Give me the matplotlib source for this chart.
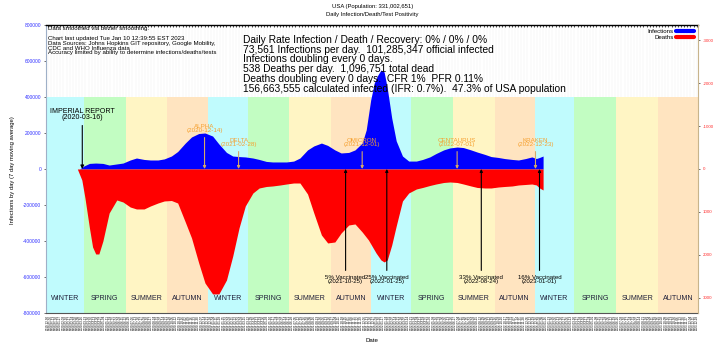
import numpy as np
import pandas as pd
import matplotlib
matplotlib.use("Agg")
import matplotlib.pyplot as plt
import matplotlib.dates as mdates
from matplotlib.lines import Line2D

plt.rcParams['font.family'] = ['Liberation Sans', 'DejaVu Sans']

# daily infections (7 day average, smoothed)
inf_dates = ["2020-03-10", "2020-03-20", "2020-04-01", "2020-04-15", "2020-05-01", "2020-05-15",
             "2020-06-01", "2020-06-15", "2020-07-01", "2020-07-15", "2020-08-01", "2020-08-15",
             "2020-09-01", "2020-09-15", "2020-10-01", "2020-10-15", "2020-11-01", "2020-11-15",
             "2020-12-01", "2020-12-15", "2021-01-01", "2021-01-15", "2021-02-01", "2021-02-15",
             "2021-03-01", "2021-03-15", "2021-04-01", "2021-04-15", "2021-05-01", "2021-05-15",
             "2021-06-01", "2021-06-15", "2021-07-01", "2021-07-15", "2021-08-01", "2021-08-15",
             "2021-09-01", "2021-09-15", "2021-10-01", "2021-10-15", "2021-11-01", "2021-11-15",
             "2021-12-01", "2021-12-10", "2021-12-20", "2021-12-28", "2022-01-05", "2022-01-12",
             "2022-01-19", "2022-01-26", "2022-02-05", "2022-02-15", "2022-03-01", "2022-03-15",
             "2022-04-01", "2022-04-15", "2022-05-01", "2022-05-15", "2022-06-01", "2022-06-15",
             "2022-07-01", "2022-07-15", "2022-08-01", "2022-08-15", "2022-09-01", "2022-09-15",
             "2022-10-01", "2022-10-15", "2022-11-01", "2022-11-15", "2022-12-01", "2022-12-15",
             "2022-12-25", "2023-01-01", "2023-01-09"]
inf_values = [0, 17000, 31000, 33000, 31000, 22000,
              28000, 33000, 50000, 61000, 53000, 50000,
              50000, 56000, 72000, 97000, 144000, 178000,
              197000, 200000, 183000, 139000, 92000, 72000,
              69000, 67000, 61000, 53000, 42000, 39000,
              39000, 39000, 44000, 61000, 106000, 128000,
              144000, 131000, 106000, 89000, 92000, 106000,
              144000, 217000, 383000, 478000, 522000, 550000,
              539000, 450000, 283000, 156000, 72000, 44000,
              44000, 53000, 67000, 86000, 106000, 117000,
              122000, 119000, 106000, 94000, 81000, 69000,
              64000, 58000, 53000, 50000, 58000, 67000,
              58000, 64000, 72000]

# daily deaths (right axis, drawn downwards)
death_dates = ["2020-03-05", "2020-03-15", "2020-03-22", "2020-04-01", "2020-04-08", "2020-04-15",
               "2020-04-22", "2020-05-01", "2020-05-15", "2020-06-01", "2020-06-15", "2020-07-01",
               "2020-07-15", "2020-08-01", "2020-08-15", "2020-09-01", "2020-09-15", "2020-10-01",
               "2020-10-15", "2020-11-01", "2020-11-15", "2020-12-01", "2020-12-15", "2021-01-01",
               "2021-01-15", "2021-02-01", "2021-02-15", "2021-03-01", "2021-03-15", "2021-04-01",
               "2021-04-15", "2021-05-01", "2021-05-15", "2021-06-01", "2021-06-15", "2021-07-01",
               "2021-07-15", "2021-08-01", "2021-08-15", "2021-09-01", "2021-09-15", "2021-10-01",
               "2021-10-15", "2021-11-01", "2021-11-15", "2021-12-01", "2021-12-15", "2022-01-01",
               "2022-01-12", "2022-01-19", "2022-01-26", "2022-02-05", "2022-02-15", "2022-03-01",
               "2022-03-15", "2022-04-01", "2022-04-15", "2022-05-01", "2022-05-15", "2022-06-01",
               "2022-06-15", "2022-07-01", "2022-07-15", "2022-08-01", "2022-08-15", "2022-09-01",
               "2022-09-15", "2022-10-01", "2022-10-15", "2022-11-01", "2022-11-15", "2022-12-01",
               "2022-12-15", "2022-12-25", "2023-01-01", "2023-01-09"]
death_values = [0, 256, 675, 1372, 1814, 1977,
                1977, 1675, 1023, 721, 768, 884,
                930, 930, 861, 791, 744, 733,
                791, 1233, 1605, 2186, 2652, 2907,
                2907, 2582, 2024, 1372, 861, 558,
                442, 407, 395, 372, 349, 326,
                326, 582, 1023, 1535, 1721, 1698,
                1489, 1303, 1279, 1465, 1651, 1954,
                2117, 2163, 2117, 1768, 1326, 744,
                558, 465, 430, 384, 349, 314,
                302, 314, 349, 395, 430, 442,
                442, 419, 407, 395, 372, 360,
                349, 372, 442, 488]

season_starts = ["2019-12-21", "2020-03-20", "2020-06-21", "2020-09-22", "2020-12-21",
                 "2021-03-20", "2021-06-21", "2021-09-22", "2021-12-21", "2022-03-20",
                 "2022-06-21", "2022-09-23", "2022-12-21", "2023-03-20", "2023-06-21",
                 "2023-09-23", "2023-12-22"]
season_names = ["WINTER", "SPRING", "SUMMER", "AUTUMN"] * 4
season_colors = {"WINTER": "#c0fbfd", "SPRING": "#c2fdc2", "SUMMER": "#fff5c4", "AUTUMN": "#ffe4c0"}

variant_names = ["ALPHA", "DELTA", "OMICRON", "CENTAURUS", "KRAKEN"]
variant_dates = ["2020-12-14", "2021-02-28", "2021-12-01", "2022-07-01", "2022-12-23"]
variant_label_y = [225000, 147000, 147000, 147000, 147000]

vacc_labels = ["5% Vaccinated", "25% Vaccinated", "33% Vaccinated", "16% Vaccinated"]
vacc_dates = ["2021-10-25", "2022-01-25", "2022-08-24", "2023-01-01"]

x_start, x_end = "2019-12-26", "2023-12-21"

def num(d):
    return mdates.date2num(pd.Timestamp(d))

fig = plt.figure(figsize=(7.2, 3.47), dpi=100)
ax = fig.add_axes([0.0639, 0.098, 0.9056, 0.830])
ax.set_xlim(num(x_start), num(x_end))
ax.set_ylim(-800000, 800000)
ax.set_axisbelow(True)
ax.grid(axis='x', color='#f0f0f0', lw=0.3)

# season bands
for i, name in enumerate(season_names):
    a, b = num(season_starts[i]), num(season_starts[i + 1])
    ax.fill_between([a, b], -800000, 400000, color=season_colors[name], lw=0, zorder=1)
    lo, hi = max(a, num(x_start)), min(b, num(x_end))
    ax.text((lo + hi) / 2, -722000, name, ha='center', va='center', fontsize=5.1,
            color='#20203a', zorder=3)

inf_x = [num(d) for d in inf_dates]
ax.fill_between(inf_x, 0, inf_values, color='#0000ff', lw=0, zorder=2)

ax2 = ax.twinx()
ax2.set_ylim(3350, -3350)
death_x = [num(d) for d in death_dates]
ax2.fill_between(death_x, 0, death_values, color='#ff0000', lw=0, zorder=2)

# ticks
week_ticks = pd.date_range("2019-12-30", x_end, freq="7D")
ax.set_xticks([num(t) for t in week_ticks])
ax.set_xticklabels([t.strftime("%Y-%m-%d") for t in week_ticks], rotation=90, fontsize=2.2)
ax.tick_params(axis='x', top=True, direction='in', length=1.5, width=0.5, pad=1.5)
yt = list(range(-800000, 800001, 200000))
ax.set_yticks(yt)
ax.set_yticklabels([str(v) for v in yt], fontsize=3.5, color='#3333ff')
ax.tick_params(axis='y', length=1.5, width=0.4, pad=2)
rt = list(range(-3000, 3001, 1000))
ax2.set_yticks(rt)
ax2.set_yticklabels([str(v) for v in rt], fontsize=3.2, color='#ff3030')
ax2.tick_params(axis='y', length=1.5, width=0.4, pad=2)

ax.spines['left'].set_color('#9fb0c8')
ax.spines['bottom'].set_color('#555555')
ax.spines['top'].set_linewidth(1.0)
for s in ['left', 'top', 'bottom']:
    ax2.spines[s].set_visible(False)
ax2.spines['right'].set_color('#c8b48c')
ax.spines['right'].set_visible(False)

# annotations drawn on top of both fills
ax2.annotate("IMPERIAL REPORT\n(2020-03-16)", xy=(num("2020-03-16"), 0), xycoords=ax.transData,
             xytext=(num("2020-03-16"), 303000), textcoords=ax.transData,
             ha='center', va='center', fontsize=5.1, linespacing=0.95,
             arrowprops=dict(arrowstyle='-|>', color='black', lw=0.8, mutation_scale=5,
                             shrinkA=1, shrinkB=0))
for name, d, yv in zip(variant_names, variant_dates, variant_label_y):
    ax2.annotate(f"{name}\n({d})", xy=(num(d), 0), xycoords=ax.transData,
                 xytext=(num(d), yv), textcoords=ax.transData,
                 ha='center', va='center', fontsize=4.5, color='#f5a030', linespacing=0.95,
                 arrowprops=dict(arrowstyle='-|>', color='#d4a86a', lw=0.8, mutation_scale=4,
                                 shrinkA=1, shrinkB=0))
for lab, d in zip(vacc_labels, vacc_dates):
    ax2.annotate(f"{lab}\n({d})", xy=(num(d), 0), xycoords=ax.transData,
                 xytext=(num(d), -614000), textcoords=ax.transData,
                 ha='center', va='center', fontsize=4.4, linespacing=0.95,
                 arrowprops=dict(arrowstyle='-|>', color='black', lw=0.8, mutation_scale=4,
                                 shrinkA=1, shrinkB=0))

handles = [Line2D([], [], color='#0000ff', lw=3, solid_capstyle='round'),
           Line2D([], [], color='#ff0000', lw=3, solid_capstyle='round')]
ax2.legend(handles, ["Infections", "Deaths"], loc='upper right', frameon=False, markerfirst=False,
           fontsize=4.4, handlelength=3, handletextpad=0.4, labelspacing=0.15, borderaxespad=0.2)

fig.text(0.517, 0.980, "USA (Population: 331,002,651)", ha='center', va='center', fontsize=4.2)
fig.text(0.517, 0.957, "Daily Infection/Death/Test Positivity", ha='center', va='center', fontsize=4.2)
fig.text(0.066, 0.924,
         "Data smoothed via bezier smoothing.\n\n"
         "Chart last updated Tue Jan 10 12:39:55 EST 2023\n"
         "Data Sources: Johns Hopkins GIT repository, Google Mobility,\n"
         "CDC and WHO Influenza data\n"
         "Accuracy limited by ability to determine infections/deaths/tests",
         ha='left', va='top', fontsize=4.4, linespacing=0.95)
fig.text(0.3375, 0.9,
         "Daily Rate Infection / Death / Recovery: 0% / 0% / 0%\n"
         "73,561 Infections per day.  101,285,347 official infected\n"
         "Infections doubling every 0 days.\n"
         "538 Deaths per day.  1,096,751 total dead\n"
         "Deaths doubling every 0 days.  CFR 1%  PFR 0.11%\n"
         "156,663,555 calculated infected (IFR: 0.7%).  47.3% of USA population",
         ha='left', va='top', fontsize=7.4, linespacing=0.98)
fig.text(0.0167, 0.51, "Infections by day (7 day moving average)", rotation=90,
         ha='center', va='center', fontsize=4.2)
fig.text(0.517, 0.02, "Date", ha='center', va='center', fontsize=4.4)

fig.savefig("out.png", dpi=100)
